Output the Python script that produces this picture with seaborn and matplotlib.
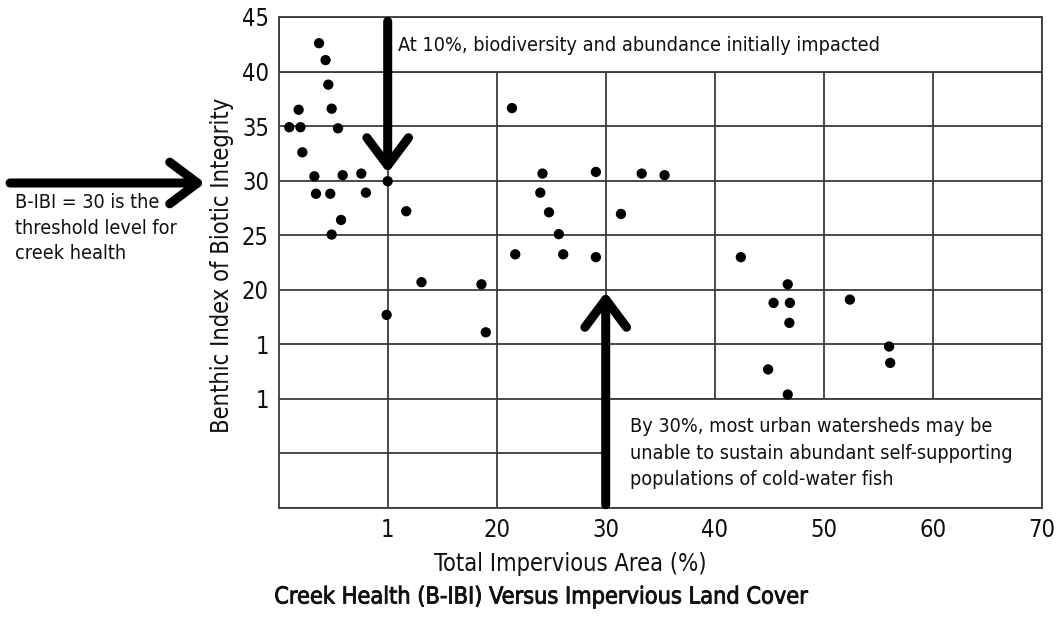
import matplotlib
matplotlib.use("Agg")
import matplotlib.pyplot as plt
import matplotlib.patches as mpatches
import matplotlib.patheffects as pe
from matplotlib import font_manager as fm
import seaborn as sns
import pandas as pd

# ---- data ----
impervious = [0.97, 1.83, 2.0, 2.17, 3.7, 4.3, 4.55, 4.86, 5.44, 3.27, 5.87, 7.58,
              3.42, 4.73, 8.0, 10.0, 5.72, 4.86, 11.7, 13.1, 18.6, 9.9, 19.0,
              21.4, 24.2, 29.1, 33.3, 35.4, 24.0, 24.8, 31.4, 25.7, 21.7, 26.1, 29.1,
              42.4, 46.7, 45.4, 46.9, 46.85, 52.4, 56.0, 56.1, 44.9, 46.7]
bibi = [34.9, 36.5, 34.9, 32.6, 42.6, 41.05, 38.8, 36.6, 34.8, 30.4, 30.5, 30.65,
        28.8, 28.8, 28.9, 29.95, 26.4, 25.06, 27.2, 20.7, 20.5, 17.7, 16.1,
        36.65, 30.65, 30.8, 30.65, 30.5, 28.9, 27.1, 26.95, 25.1, 23.25, 23.25, 22.99,
        22.99, 20.5, 18.8, 18.8, 16.97, 19.1, 14.8, 13.3, 12.7, 10.4]

x_ticks = [10, 20, 30, 40, 50, 60, 70]
x_tick_labels = ["1", "20", "30", "40", "50", "60", "70"]
y_ticks = [0, 5, 10, 15, 20, 25, 30, 35, 40, 45]
y_tick_labels = ["", "", "1", "1", "20", "25", "30", "35", "40", "45"]

title = "Creek Health (B-IBI) Versus Impervious Land Cover"
x_label = "Total Impervious Area (%)"
y_label = "Benthic Index of Biotic Integrity"
note_top = "At 10%, biodiversity and abundance initially impacted"
note_left = "B-IBI = 30 is the\nthreshold level for\ncreek health"
note_bottom = ("By 30%, most urban watersheds may be\n"
               "unable to sustain abundant self-supporting\n"
               "populations of cold-water fish")

df = pd.DataFrame({"impervious": impervious, "bibi": bibi})

sns.set_style("white")


# ---- pick a narrow / condensed sans if one is installed ----
def find_font():
    cands = []
    for f in fm.fontManager.ttflist:
        key = (f.name + " " + f.fname).lower()
        if ("narrow" in key or "condensed" in key or
                str(f.stretch).lower() in ("condensed", "semi-condensed")) \
                and "mono" not in key and "serif" not in f.name.lower().replace("sans", ""):
            w = f.weight if isinstance(f.weight, int) else (700 if "bold" in str(f.weight) else 400)
            if w >= 600 or f.style != "normal":
                continue
            rank = 0 if "liberation" in key else (1 if "dejavu" in key else 2)
            cands.append((rank, f.fname))
    if cands:
        cands.sort()
        return fm.FontProperties(fname=cands[0][1])
    return fm.FontProperties(family=["Liberation Sans", "DejaVu Sans"])


FP = find_font()
plt.rcParams["font.family"] = ["Liberation Sans", "DejaVu Sans"]


def fp(size):
    p = FP.copy()
    p.set_size(size)
    return p


W, H = 1058, 617
fig = plt.figure(figsize=(W / 100, H / 100), dpi=100)
ax = fig.add_axes([278.7 / W, (H - 508) / H, (1041.7 - 278.7) / W, (508 - 17) / H])

GRID = "#3c3c3c"
TXT = "#111111"
ax.set_xlim(0, 70)
ax.set_ylim(0, 45)
ax.set_xticks(x_ticks)
ax.set_xticklabels(x_tick_labels, fontproperties=fp(17))
ax.set_yticks(y_ticks)
ax.set_yticklabels(y_tick_labels, fontproperties=fp(17))
ax.tick_params(axis="both", length=0, colors=TXT, pad=7)
ax.set_axisbelow(True)
ax.grid(True, color=GRID, lw=1.3)
for s in ax.spines.values():
    s.set_color(GRID)
    s.set_linewidth(1.3)
    s.set_visible(True)

# white boxes hiding grid behind the notes
ax.add_patch(mpatches.Rectangle((0, 40), 70, 5, facecolor="white", edgecolor=GRID,
                                lw=1.3, zorder=1))
ax.add_patch(mpatches.Rectangle((30, 0), 40, 10, facecolor="white", edgecolor=GRID,
                                lw=1.3, zorder=1))

sns.scatterplot(data=df, x="impervious", y="bibi", color="black", s=55,
                edgecolor="none", ax=ax, zorder=3, legend=False)
ax.set_xlabel("")
ax.set_ylabel("")

arrow_kw = dict(arrowstyle="->,head_length=2.0,head_width=1.5", lw=6.5, color="black",
                capstyle="round", joinstyle="round", shrinkA=0, shrinkB=0,
                mutation_scale=10)
ax.annotate("", xy=(10, 30.7), xytext=(10, 44.6), arrowprops=arrow_kw, zorder=5)
ax.annotate("", xy=(30, 19.8), xytext=(30, 0.3), arrowprops=arrow_kw, zorder=5)
fig.add_artist(mpatches.FancyArrowPatch((10, H - 183), (205, H - 183),
                                        transform=None, **arrow_kw))

ax.text(10.9, 42.4, note_top, fontproperties=fp(14.2), color=TXT,
        va="center", ha="left", zorder=4)
ax.text(32.2, 5.0, note_bottom, fontproperties=fp(14.2), color=TXT,
        va="center", ha="left", linespacing=1.5, zorder=4)
fig.text(15 / W, 1 - 228 / H, note_left, fontproperties=fp(14.2), color=TXT,
         va="center", ha="left", linespacing=1.45)

fig.text(222 / W, 1 - 265 / H, y_label, fontproperties=fp(17), color=TXT,
         rotation=90, va="center", ha="center")
fig.text(570 / W, 1 - 564 / H, x_label, fontproperties=fp(17), color=TXT,
         va="center", ha="center")
fig.text(541 / W, 1 - 597 / H, title, fontproperties=fp(16.8), color=TXT,
         va="center", ha="center",
         path_effects=[pe.withStroke(linewidth=0.6, foreground=TXT)])

fig.savefig("out.png", dpi=100, facecolor="white")
